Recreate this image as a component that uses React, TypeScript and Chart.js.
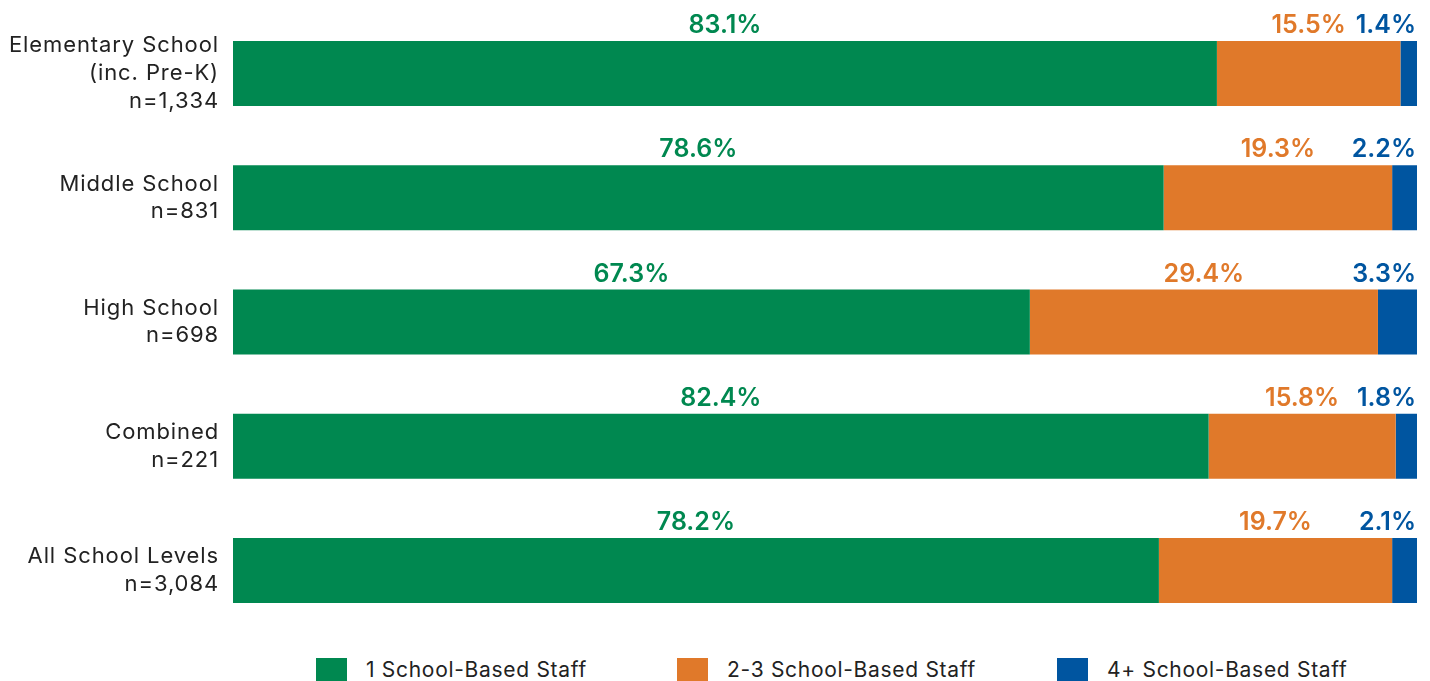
import React, { useEffect, useRef } from "react";
import { Chart, registerables } from "chart.js";

Chart.register(...registerables);

const categories: string[][] = [
  ["Elementary School", "(inc. Pre-K)", "n=1,334"],
  ["Middle School", "n=831"],
  ["High School", "n=698"],
  ["Combined", "n=221"],
  ["All School Levels", "n=3,084"],
];

const seriesNames = ["1 School-Based Staff", "2-3 School-Based Staff", "4+ School-Based Staff"];
const oneStaff = [83.1, 78.6, 67.3, 82.4, 78.2];
const twoThreeStaff = [15.5, 19.3, 29.4, 15.8, 19.7];
const fourPlusStaff = [1.4, 2.2, 3.3, 1.8, 2.1];
const colors = ["#008850", "#E0792A", "#0055A0"];

const FONT = "Inter, 'Noto Sans', sans-serif";

const spacingPlugin = {
  id: "tickSpacing",
  beforeDraw(chart: any) {
    chart.ctx.letterSpacing = "0.9px";
  },
};

const labelPlugin = {
  id: "barLabels",
  afterDatasetsDraw(chart: any) {
    const { ctx, chartArea } = chart;
    ctx.save();
    ctx.letterSpacing = "0px";
    ctx.font = `600 25px ${FONT}`;
    ctx.textBaseline = "alphabetic";
    chart.data.datasets.forEach((ds: any, di: number) => {
      const meta = chart.getDatasetMeta(di);
      meta.data.forEach((el: any, i: number) => {
        const props = el.getProps(["x", "y", "base", "height"], true);
        const v = ds.data[i];
        const txt = v.toFixed(1) + "%";
        const top = props.y - props.height / 2 - 8;
        ctx.fillStyle = colors[di];
        const end = Math.min(props.x, chartArea.right);
        if (di === 2) {
          ctx.textAlign = "right";
          ctx.fillText(txt, end - 1, top);
        } else {
          ctx.textAlign = "center";
          ctx.fillText(txt, (end + props.base) / 2, top);
        }
      });
    });
    ctx.restore();
  },
};

export default function App() {
  const ref = useRef<HTMLCanvasElement>(null);
  useEffect(() => {
    if (!ref.current) return;
    const datasets = [oneStaff, twoThreeStaff, fourPlusStaff].map((d, i) => ({
      label: seriesNames[i],
      data: d,
      backgroundColor: colors[i],
      borderWidth: 0,
      barPercentage: 0.523,
      categoryPercentage: 1,
    }));
    const chart = new Chart(ref.current, {
      type: "bar",
      data: { labels: categories as any, datasets },
      options: {
        indexAxis: "y",
        responsive: false,
        animation: false,
        devicePixelRatio: 1,
        layout: { padding: { top: 11.4, right: 13, bottom: 12.4, left: 0 } },
        plugins: { legend: { display: false }, tooltip: { enabled: false } },
        scales: {
          x: { stacked: true, min: 0, max: 100, display: false },
          y: {
            stacked: true,
            grid: { display: false, drawTicks: false },
            border: { display: false },
            afterFit: (scale: any) => {
              scale.width = 233;
              scale.paddingTop = 0;
              scale.paddingBottom = 0;
            },
            ticks: {
              color: "#222",
              padding: 14,
              font: { family: FONT, size: 22, lineHeight: 1.26 },
            },
          },
        },
      },
      plugins: [spacingPlugin, labelPlugin],
    });
    return () => chart.destroy();
  }, []);

  const legendWidths = [361, 380, 300];
  return (
    <div style={{ position: "absolute", left: 0, top: 0, width: 1430, height: 681, overflow: "hidden", background: "#fff" }}>
      <canvas ref={ref} width={1430} height={645} style={{ position: "absolute", left: 0, top: 0 }} />
      <div style={{ position: "absolute", left: 316, top: 658, display: "flex", fontFamily: FONT, fontSize: 21, letterSpacing: "0.7px", color: "#222" }}>
        {seriesNames.map((n, i) => (
          <div key={n} style={{ width: legendWidths[i], display: "flex", alignItems: "flex-start" }}>
            <div style={{ width: 31, height: 24, background: colors[i], marginRight: 19, flex: "none" }} />
            <span style={{ whiteSpace: "nowrap", lineHeight: "24px" }}>{n}</span>
          </div>
        ))}
      </div>
    </div>
  );
}
